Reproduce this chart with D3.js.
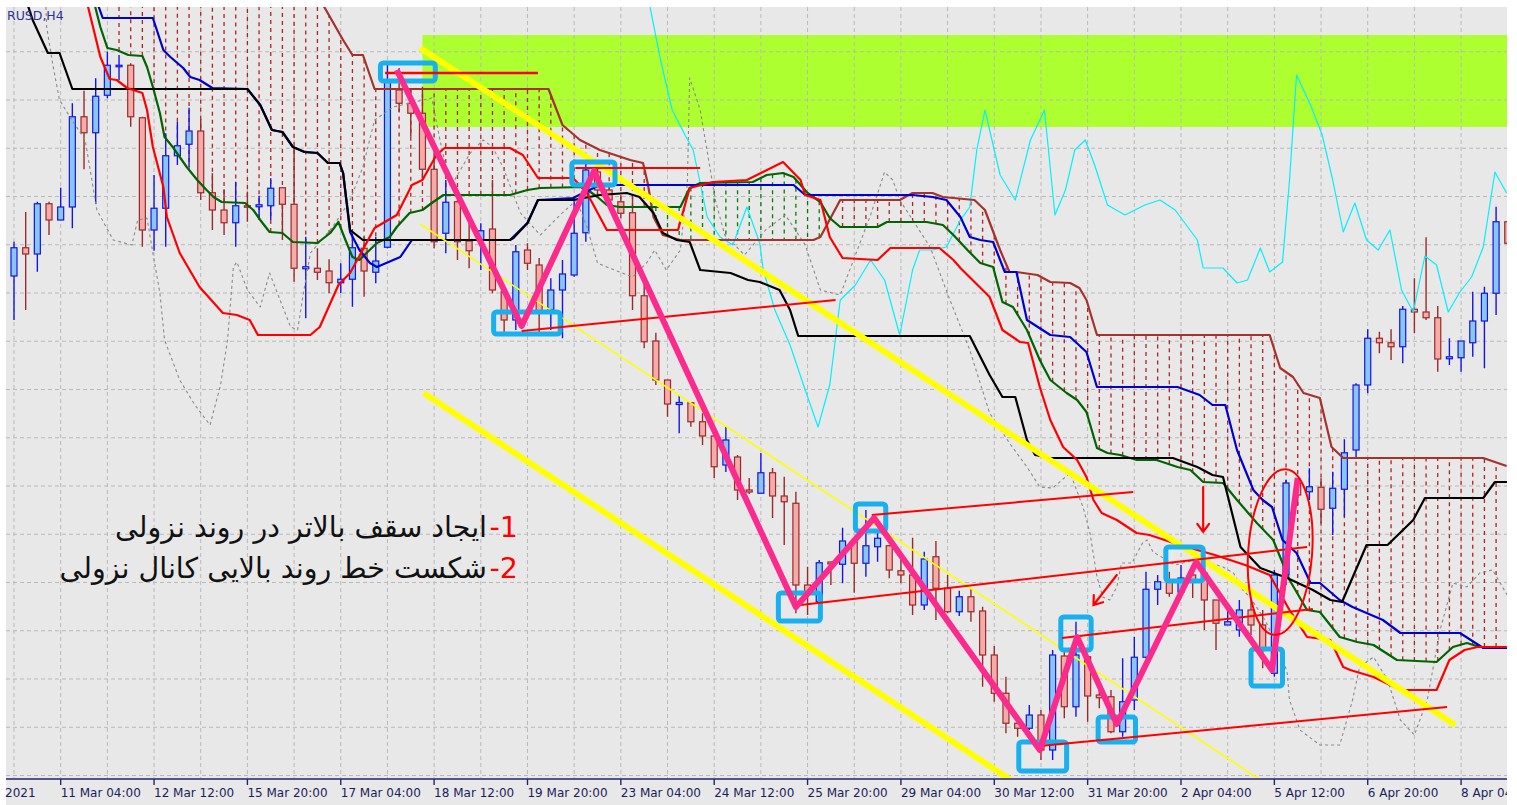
<!DOCTYPE html>
<html>
<head>
<meta charset="utf-8">
<script src="https://cdnjs.cloudflare.com/ajax/libs/d3/7.8.5/d3.min.js"></script>
<style>
  body { margin: 0; background: #fff; }
  svg { display: block; }
</style>
</head>
<body>
<script>
// General constants
const WIDTH = 1517;
const HEIGHT = 805;

// EURUSD H4, one row per bar: [open, high, low, close]
const candles = [
  [1.19056,1.19193,1.18880,1.19169],[1.19169,1.19312,1.18920,1.19144],[1.19144,1.19353,1.19073,1.19345],[1.19345,1.19353,1.19220,1.19280],
  [1.19280,1.19409,1.19280,1.19332],[1.19332,1.19747,1.19247,1.19693],[1.19693,1.19797,1.19483,1.19629],[1.19629,1.19847,1.19344,1.19775],
  [1.19779,1.19953,1.19767,1.19899],[1.19893,1.19940,1.19840,1.19899],[1.19899,1.19907,1.19653,1.19693],[1.19689,1.19693,1.19173,1.19240],
  [1.19240,1.19460,1.19157,1.19327],[1.19327,1.19627,1.19173,1.19537],[1.19537,1.19673,1.19500,1.19577],[1.19583,1.19729,1.19493,1.19636],
  [1.19636,1.19684,1.19360,1.19389],[1.19389,1.19467,1.19240,1.19320],[1.19320,1.19403,1.19220,1.19269],[1.19269,1.19433,1.19173,1.19337],
  [1.19337,1.19393,1.19273,1.19331],[1.19333,1.19377,1.19280,1.19341],[1.19337,1.19447,1.19280,1.19407],[1.19409,1.19409,1.19200,1.19343],
  [1.19343,1.19573,1.19033,1.19087],[1.19085,1.19213,1.18887,1.19093],[1.19087,1.19167,1.19040,1.19071],[1.19076,1.19123,1.18987,1.19029],
  [1.19029,1.19107,1.18987,1.19043],[1.19043,1.19227,1.18933,1.19169],[1.19167,1.19213,1.18973,1.19076],[1.19071,1.19213,1.19027,1.19116],
  [1.19171,1.19907,1.19167,1.19840],[1.19800,1.19888,1.19713,1.19747],[1.19747,1.19800,1.19613,1.19707],[1.19707,1.19813,1.19440,1.19483],
  [1.19483,1.19547,1.19167,1.19193],[1.19227,1.19440,1.19147,1.19351],[1.19353,1.19360,1.19120,1.19193],[1.19196,1.19280,1.19087,1.19157],
  [1.19200,1.19267,1.19080,1.19237],[1.19244,1.19440,1.18987,1.19000],[1.18993,1.19020,1.18832,1.18880],[1.18880,1.19180,1.18840,1.19153],
  [1.19160,1.19187,1.19080,1.19107],[1.19100,1.19128,1.18820,1.18912],[1.18920,1.19047,1.18840,1.19000],[1.19000,1.19120,1.18807,1.19064],
  [1.19060,1.19373,1.19053,1.19227],[1.19229,1.19507,1.19193,1.19480],[1.19472,1.19500,1.19368,1.19400],[1.19400,1.19420,1.19332,1.19360],
  [1.19353,1.19373,1.19287,1.19307],[1.19309,1.19373,1.18920,1.18977],[1.18977,1.19033,1.18767,1.18793],[1.18796,1.18829,1.18620,1.18640],
  [1.18640,1.18640,1.18493,1.18544],[1.18542,1.18580,1.18427,1.18550],[1.18549,1.18549,1.18453,1.18473],[1.18473,1.18507,1.18380,1.18416],
  [1.18416,1.18440,1.18248,1.18293],[1.18300,1.18453,1.18272,1.18400],[1.18332,1.18340,1.18160,1.18200],[1.18200,1.18248,1.18184,1.18192],
  [1.18187,1.18348,1.18187,1.18269],[1.18269,1.18288,1.18088,1.18176],[1.18176,1.18253,1.17980,1.18153],[1.18147,1.18193,1.17707,1.17820],
  [1.17820,1.17893,1.17700,1.17793],[1.17753,1.17920,1.17748,1.17909],[1.17912,1.17913,1.17820,1.17904],[1.17903,1.18049,1.17827,1.17996],
  [1.17993,1.18000,1.17789,1.17907],[1.17907,1.18120,1.17853,1.17977],[1.17973,1.18040,1.17913,1.18007],[1.17977,1.17980,1.17847,1.17880],
  [1.17877,1.17923,1.17827,1.17860],[1.17860,1.18009,1.17700,1.17740],[1.17740,1.17953,1.17720,1.17924],[1.17933,1.17996,1.17680,1.17807],
  [1.17807,1.17860,1.17707,1.17713],[1.17713,1.17797,1.17696,1.17773],[1.17773,1.17803,1.17673,1.17713],[1.17716,1.17733,1.17413,1.17540],
  [1.17540,1.17576,1.17353,1.17387],[1.17387,1.17453,1.17227,1.17267],[1.17267,1.17273,1.17213,1.17247],[1.17247,1.17340,1.17240,1.17300],
  [1.17300,1.17320,1.17120,1.17160],[1.17160,1.17560,1.17120,1.17540],[1.17536,1.17560,1.17287,1.17333],[1.17333,1.17673,1.17293,1.17540],
  [1.17533,1.17533,1.17273,1.17376],[1.17380,1.17420,1.17327,1.17369],[1.17373,1.17400,1.17227,1.17233],[1.17233,1.17527,1.17213,1.17353],
  [1.17360,1.17613,1.17320,1.17531],[1.17531,1.17873,1.17527,1.17803],[1.17803,1.17860,1.17740,1.17833],[1.17833,1.17873,1.17773,1.17787],
  [1.17792,1.17900,1.17768,1.17848],[1.17860,1.17888,1.17768,1.17840],[1.17867,1.17908,1.17640,1.17760],[1.17760,1.17760,1.17560,1.17667],
  [1.17660,1.17720,1.17660,1.17673],[1.17640,1.17760,1.17613,1.17720],[1.17720,1.17767,1.17620,1.17660],[1.17660,1.17720,1.17487,1.17567],
  [1.17467,1.17880,1.17453,1.17860],[1.17860,1.18240,1.17820,1.18228],[1.18228,1.18248,1.18140,1.18180],[1.18193,1.18287,1.18160,1.18213],
  [1.18211,1.18247,1.18067,1.18123],[1.18127,1.18273,1.18020,1.18207],[1.18203,1.18403,1.18093,1.18349],[1.18360,1.18627,1.18327,1.18620],
  [1.18620,1.18843,1.18587,1.18807],[1.18807,1.18833,1.18747,1.18789],[1.18789,1.18843,1.18720,1.18773],[1.18773,1.18936,1.18707,1.18923],
  [1.18923,1.19047,1.18827,1.18912],[1.18912,1.19211,1.18880,1.18889],[1.18889,1.18936,1.18673,1.18724],[1.18725,1.18807,1.18700,1.18733],
  [1.18729,1.18796,1.18673,1.18796],[1.18789,1.18993,1.18733,1.18876],[1.18876,1.19013,1.18687,1.18987],[1.18987,1.19333,1.18900,1.19273],
  [1.19273,1.19320,1.19160,1.19187]
];

// Indicator lines, read as [bar, price] vertices
const redLine = [[6.1,1.2018],[7.4,1.19932],[8.2,1.19844],[8.8,1.1984],[9.7,1.19808],[11,1.19788],[11.4,1.1972],[11.9,1.19572],[12.8,1.19412],[13.1,1.19292],[14.2,1.19148],[15.9,1.19012],[17.9,1.18908],[19.1,1.189],[20.2,1.1888],[20.9,1.1882],[25.4,1.1882],[26.2,1.18852],[27.8,1.1902],[28.8,1.19068],[30.9,1.19248],[32.8,1.193],[34.1,1.1942],[35,1.1944],[36.2,1.1954],[36.9,1.19568],[42.5,1.19568],[43.6,1.1954],[44.9,1.19448],[47.9,1.19448],[49.1,1.19388],[50.8,1.1924],[56.9,1.1924],[57.9,1.19408],[59.9,1.19432],[62.8,1.1944],[65.9,1.19512],[67.4,1.1944],[67.8,1.1938],[69.1,1.1936],[69.9,1.19212],[71,1.19128],[74,1.1912],[75.1,1.19168],[79.3,1.19168],[80.5,1.1912],[81.1,1.19088],[83.6,1.18972],[84.7,1.1884],[86.2,1.18792],[86.9,1.18788],[87.9,1.18612],[88.8,1.1848],[89.9,1.18372],[91.1,1.1832],[91.9,1.18252],[92.5,1.1816],[93.2,1.18108],[94.5,1.1808],[96.2,1.18028],[97.3,1.1802],[99.9,1.1798],[102.9,1.1794],[105.5,1.179],[107.6,1.1786],[109.3,1.1772],[110.8,1.17612],[112.8,1.176],[113.9,1.17492],[114.5,1.1748],[116.5,1.17452],[118.8,1.174],[121.9,1.174],[123,1.1752],[124.3,1.1756],[125.4,1.17572],[128.2,1.17572]];
const blackLine = [[0.9,1.2018],[1.6,1.2008],[2.9,1.19948],[3.9,1.19948],[5,1.19804],[20,1.19804],[21.1,1.1974],[22.1,1.1964],[23,1.19632],[23.9,1.19572],[24.9,1.19552],[26,1.19548],[26.9,1.19508],[27.9,1.19508],[28.2,1.19468],[28.8,1.1924],[29.9,1.192],[42.5,1.192],[42.8,1.19208],[44,1.19268],[44.9,1.1936],[47.9,1.1936],[50.2,1.1938],[52.5,1.19388],[53.6,1.19372],[54.8,1.19308],[55.6,1.19228],[56.8,1.192],[57.9,1.19192],[58.8,1.1908],[61.4,1.19068],[62.9,1.1904],[63.9,1.19032],[65.6,1.19],[66.5,1.1892],[67.2,1.18816],[81.9,1.18816],[83.6,1.1866],[84.7,1.18572],[85.8,1.18572],[86.8,1.184],[87.5,1.1834],[88.8,1.18328],[99.3,1.18328],[101.4,1.18292],[102.7,1.1826],[103.6,1.18252],[105.1,1.17972],[106.8,1.17888],[109.1,1.17848],[111.3,1.178],[112.8,1.1776],[113.8,1.17752],[115.9,1.1798],[117.7,1.1798],[119.9,1.1808],[120.9,1.18168],[125.9,1.18168],[126.9,1.18232],[128.2,1.18232]];
const blueLine = [[6.9,1.2018],[7.6,1.20088],[11.9,1.20088],[12.8,1.1996],[13.4,1.19932],[14.5,1.19888],[15.1,1.19852],[15.9,1.1984],[17,1.19808],[20,1.19804],[21.1,1.1974],[22.1,1.1964],[23,1.19632],[23.9,1.19572],[24.9,1.19552],[26,1.19548],[26.9,1.19508],[27.9,1.19508],[28.2,1.19468],[28.8,1.19232],[29.6,1.1916],[30.5,1.19108],[31.1,1.19092],[32.5,1.1912],[33.1,1.19132],[34.1,1.192],[42.5,1.192],[44,1.19268],[44.9,1.1936],[47.9,1.19368],[50.2,1.1942],[66.8,1.1942],[67.8,1.1938],[77,1.1938],[78.7,1.19372],[79.9,1.1936],[81.1,1.19292],[81.9,1.19212],[82.8,1.192],[83.9,1.19192],[84.9,1.19072],[85.9,1.19072],[86.8,1.1888],[88.8,1.1882],[90.5,1.18812],[91.9,1.18752],[92.8,1.18612],[99.7,1.18612],[101.6,1.1858],[102.7,1.1854],[103.8,1.1854],[104.8,1.1836],[106.2,1.182],[107,1.1816],[107.8,1.18132],[108.7,1.18],[109.9,1.17948],[111.1,1.17828],[111.9,1.17828],[113.6,1.1776],[114.7,1.17732],[117.3,1.1768],[118.8,1.17628],[123.9,1.17628],[125.9,1.17568],[128.2,1.17568]];
// cloud edges: span A (dark green) and span B (brown)
const spanA = [[6.7,1.2018],[7.4,1.20052],[8,1.19968],[8.8,1.1996],[9.8,1.1994],[11,1.19936],[11.4,1.19892],[11.9,1.19812],[12.5,1.19708],[12.9,1.19612],[13.6,1.19572],[14.8,1.19492],[15.7,1.1944],[16.5,1.194],[17.1,1.19372],[17.8,1.19352],[19.8,1.19348],[20.5,1.1932],[21.1,1.1928],[21.9,1.19232],[23,1.19228],[23.9,1.19192],[26,1.19188],[27.1,1.19228],[27.8,1.19272],[28.4,1.192],[29,1.19132],[29.6,1.1912],[30.3,1.19152],[31.1,1.19188],[32.2,1.19212],[32.8,1.19252],[33.9,1.19308],[35,1.1932],[35.8,1.19348],[36.8,1.1938],[42.5,1.1938],[44,1.194],[45.1,1.19408],[48.8,1.19412],[50,1.19372],[50.8,1.1934],[51.9,1.19332],[57.1,1.19332],[57.9,1.19408],[58.8,1.19428],[63.3,1.19432],[64.5,1.1946],[65.9,1.19468],[66.8,1.19452],[68,1.19388],[69.1,1.19352],[69.9,1.19288],[70.8,1.19252],[74,1.19252],[74.8,1.19272],[78.2,1.19272],[79.6,1.1926],[80.5,1.1922],[81.7,1.1916],[82.8,1.19108],[83.9,1.19092],[84.7,1.18952],[85.6,1.18932],[86.8,1.1884],[87.9,1.1872],[88.8,1.1864],[90.2,1.18588],[91.1,1.1856],[91.9,1.18512],[92.8,1.18368],[93.7,1.18348],[94.8,1.1834],[96.2,1.1832],[97.9,1.1832],[99.7,1.18292],[100.8,1.1828],[101.9,1.18232],[103.6,1.18228],[104.8,1.1816],[106.5,1.18068],[107.9,1.18],[109.3,1.1784],[110.8,1.1772],[111.9,1.17712],[113.6,1.17612],[115.1,1.17592],[116.5,1.1758],[118.5,1.1752],[121.9,1.17512],[123.3,1.17572],[124.5,1.17588],[125.6,1.17572],[128.2,1.17572]];
const spanB = [[8.5,1.2030],[25.5,1.2030],[26,1.2018],[28.2,1.2],[29,1.1994],[29.9,1.1994],[30.9,1.19804],[45.8,1.19804],[47,1.1966],[48.5,1.196],[50.2,1.1956],[52.8,1.1952],[53.9,1.19508],[54.3,1.19428],[54.8,1.19292],[55.6,1.1922],[57.1,1.192],[68.5,1.192],[69.1,1.19212],[70.8,1.1936],[75.9,1.1936],[77,1.19388],[78.7,1.19388],[79.6,1.19372],[82.3,1.1936],[83.2,1.1932],[84.5,1.1916],[85.3,1.19072],[85.9,1.19072],[87.7,1.1906],[88.8,1.19032],[90.5,1.19028],[91.3,1.19008],[91.9,1.1896],[92.8,1.1882],[107.6,1.1882],[108.5,1.18688],[109.6,1.18652],[110.5,1.18588],[111.9,1.18568],[112.9,1.18372],[113.9,1.18328],[125.9,1.18328],[127.9,1.18296]];
const cyanLine = [[54.3,1.2018],[55.4,1.1992],[56.4,1.1972],[57.5,1.1962],[58.2,1.1956],[58.8,1.19428],[59.4,1.19292],[60.5,1.19212],[61.6,1.1918],[62.8,1.19332],[63.9,1.19188],[64.2,1.1908],[65.2,1.1892],[66.5,1.1878],[67.8,1.186],[68.9,1.18452],[69.9,1.1862],[70.8,1.1896],[72.1,1.1902],[73.4,1.1912],[74.6,1.1904],[75.9,1.1882],[77,1.1908],[77.6,1.1916],[78.7,1.1916],[79.9,1.19172],[81.1,1.1928],[81.9,1.19332],[82.5,1.1956],[83.2,1.1972],[84.5,1.1946],[85.8,1.1936],[87.1,1.196],[88.3,1.1972],[89.2,1.193],[90.1,1.194],[90.9,1.1956],[91.8,1.196],[92.6,1.195],[93.7,1.1934],[95.2,1.193],[96.9,1.1934],[98.2,1.1936],[99.5,1.1932],[101.4,1.192],[101.9,1.19088],[103.6,1.19088],[104.8,1.19028],[105.7,1.1904],[106.8,1.19168],[107.6,1.19072],[108.7,1.19112],[109.3,1.1944],[109.9,1.1986],[111.1,1.1974],[112.1,1.1962],[113,1.1944],[113.9,1.19232],[114.9,1.19348],[115.9,1.192],[116.9,1.1916],[117.9,1.1924],[118.9,1.19],[119.9,1.18912],[120.9,1.19136],[121.9,1.191],[122.9,1.18912],[123.9,1.18992],[124.9,1.19052],[125.9,1.19172],[126.9,1.19472],[127.9,1.19388]];
const grayLine = [[2.7,1.2018],[2.8,1.20052],[3.3,1.19908],[3.9,1.1976],[4.8,1.19692],[6.1,1.196],[7.1,1.1932],[8.5,1.192],[10.1,1.1918],[10.6,1.1928],[11.4,1.19288],[11.9,1.19148],[12.5,1.18988],[12.9,1.188],[14.2,1.1864],[15.5,1.1854],[16.8,1.1846],[17.7,1.1862],[18.3,1.188],[18.8,1.19092],[19.1,1.19112],[20,1.19],[21.1,1.18932],[21.9,1.19068],[22.8,1.1896],[23.7,1.18852],[24.3,1.1884],[24.8,1.18988],[25.4,1.19148],[27.3,1.19252],[28.1,1.19308],[28.8,1.1936],[29.9,1.19492],[30.9,1.1968],[32.5,1.19732],[35.8,1.19768],[36.5,1.196],[37.4,1.19412],[39.1,1.19548],[40.2,1.196],[41,1.19572],[41.9,1.19492],[43.4,1.19308],[45.1,1.1922],[46.8,1.193],[48.2,1.1936],[49.1,1.19252],[50,1.19108],[50.8,1.19092],[53,1.19052],[54.2,1.19108],[54.9,1.1916],[55.9,1.1908],[57.1,1.1916],[57.7,1.19428],[57.9,1.19848],[58.8,1.1972],[60.1,1.1936],[60.9,1.1922],[62.6,1.1914],[64.4,1.1924],[66.1,1.193],[67.8,1.1918],[69.1,1.19],[70.8,1.1898],[73.4,1.193],[74.6,1.19472],[75.3,1.1944],[75.9,1.1936],[78.5,1.19172],[80.2,1.1896],[81.9,1.1876],[83.6,1.18508],[85.3,1.18388],[86.8,1.18292],[87.9,1.18212],[89,1.18208],[90.5,1.18268],[91.6,1.18132],[92.2,1.18028],[92.8,1.17852],[93.3,1.17772],[93.9,1.1776],[94.5,1.17812],[94.9,1.17908],[95.8,1.17908],[96.7,1.17988],[97.1,1.18],[97.6,1.17952],[99.5,1.179],[101.2,1.1792],[102.5,1.17908],[103.6,1.17892],[104.5,1.17868],[105.3,1.178],[105.9,1.17772],[107.2,1.1768],[108.7,1.17532],[109.1,1.17468],[109.3,1.1736],[110.2,1.1724],[111.9,1.1718],[113.6,1.1718],[114.7,1.1736],[115.3,1.17492],[116.5,1.17532],[117.7,1.1744],[118.8,1.1728],[120,1.1722],[121.1,1.1736],[122.2,1.1764],[123.3,1.17828],[124.5,1.17812],[125.6,1.17868],[126.7,1.1788],[128.2,1.1776]];

// Time axis labels, one every 8 bars starting at bar 4 (the first, cut one shows only its year)
const yearLabel = "2021";
const timeLabels = ["11 Mar 04:00","12 Mar 12:00","15 Mar 20:00","17 Mar 04:00","18 Mar 12:00","19 Mar 20:00","23 Mar 04:00","24 Mar 12:00","25 Mar 20:00","29 Mar 04:00","30 Mar 12:00","31 Mar 20:00","2 Apr 04:00","5 Apr 12:00","6 Apr 20:00","8 Apr 04:00"];
const symbolCaption = "RUSD,H4";

// Drawn objects, anchored at [bar, price]
const zone = [35, 131, 1.20020, 1.19652];
const channelThick = [[[34.8,1.19968],[123.5,1.17260]], [[35.1,1.18588],[85.8,1.17028]]];
const channelThin = [[[34.8,1.19264],[107.2,1.17028]]];
const levelLines = [
  [[31.8,1.19868],[44.9,1.19868]], [[48.1,1.19488],[58.8,1.19488]], [[43.5,1.18836],[70.4,1.18960]],
  [[73.5,1.18100],[95.9,1.18192]], [[67.4,1.17740],[110.8,1.17972]], [[89.8,1.17608],[111.3,1.17724]],
  [[87.9,1.17176],[122.8,1.17332]]
];
const markBoxes = [
  [31.4,36.1,1.19908,1.19836],[47.8,51.5,1.19512,1.19420],[41.1,46.8,1.18912,1.18824],[65.5,69.1,1.17788,1.17676],
  [72.1,74.7,1.18144,1.18036],[86.1,90.2,1.17192,1.17076],[89.7,92.3,1.17692,1.17560],[92.9,96.1,1.17292,1.17192],
  [98.7,101.9,1.17972,1.17836],[106.0,108.7,1.17564,1.17416]
];
const zigzag = [[32.8,1.19880],[43.5,1.18856],[49.7,1.19476],[67,1.17732],[73.7,1.18088],[87.9,1.17160],[91.1,1.17612],[94.5,1.17264],[101.3,1.17912],[107.8,1.17480],[110,1.18248]];
const arrows = [[[101.9,1.18212],[101.9,1.18032]], [[94.5,1.17860],[92.5,1.17740]]];
const ellipseMark = { bar: 108.5, price: 1.17952, barRadius: 2.74, priceRadius: 0.00332 };
const notes = [["-1", "ایجاد سقف بالاتر در روند نزولی"], ["-2", "شکست خط روند بالایی کانال نزولی"]];

// price grid, MT4 style
const gridTop = 1.19953, gridStep = 0.00193;

/**
 * Scales: bar index -> x, price -> y
 */
const barStep = 11.67;
const x = d3.scaleLinear().domain([0, 128]).range([14, 14 + 128 * barStep]);
const y = d3.scaleLinear().domain([1.2016, 1.1716]).range([0, 750]);

const plotLeft = 6, plotTop = 7, plotRight = 1507, plotBottom = 778;

const svg = d3.select("body").append("svg")
  .attr("width", WIDTH)
  .attr("height", HEIGHT);

svg.append("rect")
  .attr("x", plotLeft).attr("y", plotTop)
  .attr("width", plotRight - plotLeft).attr("height", HEIGHT - plotTop)
  .attr("fill", "#e8e8e8");

svg.append("clipPath").attr("id", "plotclip")
  .append("rect")
  .attr("x", plotLeft).attr("y", plotTop)
  .attr("width", plotRight - plotLeft).attr("height", plotBottom - plotTop);

svg.append("clipPath").attr("id", "axisclip")
  .append("rect")
  .attr("x", 0).attr("y", plotBottom)
  .attr("width", plotRight).attr("height", HEIGHT - plotBottom);

const plot = svg.append("g").attr("clip-path", "url(#plotclip)");

// background rectangle object
plot.append("rect")
  .attr("x", x(zone[0])).attr("y", y(zone[2]))
  .attr("width", x(zone[1]) - x(zone[0]))
  .attr("height", y(zone[3]) - y(zone[2]))
  .attr("fill", "#adff2f");

// grid
const gridBars = d3.range(0, 129, 4);
plot.selectAll("line.vgrid").data(gridBars).join("line")
  .attr("class", "vgrid")
  .attr("x1", d => x(d)).attr("x2", d => x(d))
  .attr("y1", plotTop).attr("y2", plotBottom)
  .attr("stroke", "#b9b9b9").attr("stroke-width", 1)
  .attr("stroke-dasharray", "4,3");

const gridLevels = d3.range(0, 16).map(k => gridTop - k * gridStep);
plot.selectAll("line.hgrid").data(gridLevels).join("line")
  .attr("class", "hgrid")
  .attr("x1", plotLeft).attr("x2", plotRight)
  .attr("y1", d => y(d)).attr("y2", d => y(d))
  .attr("stroke", "#b9b9b9").attr("stroke-width", 1)
  .attr("stroke-dasharray", "4,3");

// value of a vertex series at a bar (straight segments, as drawn)
function valueAt(series, b) {
  for (let k = 0; k < series.length - 1; k++) {
    const [x0, v0] = series[k], [x1, v1] = series[k + 1];
    if (b >= x0 && b <= x1) return v0 + (v1 - v0) * (b - x0) / (x1 - x0);
  }
  return null;
}

// cloud hatching, one dotted line per bar between span A and span B
const hatch = [];
for (let b = 0; b <= 128; b++) {
  const a = valueAt(spanA, b), s = valueAt(spanB, b);
  if (a === null || s === null) continue;
  hatch.push({ b, a, s });
}
plot.selectAll("line.hatch").data(hatch).join("line")
  .attr("class", "hatch")
  .attr("x1", d => x(d.b)).attr("x2", d => x(d.b))
  .attr("y1", d => y(d.a)).attr("y2", d => y(d.s))
  .attr("stroke", d => d.s > d.a ? "#b22222" : "#008000")
  .attr("stroke-width", 1.3)
  .attr("stroke-dasharray", "4,4");

// candles
const bodyW = 6;
const bars = plot.selectAll("g.candle").data(candles).join("g").attr("class", "candle");
bars.append("line")
  .attr("x1", (d, i) => x(i)).attr("x2", (d, i) => x(i))
  .attr("y1", d => y(d[1])).attr("y2", d => y(d[2]))
  .attr("stroke", d => d[3] >= d[0] ? "#1414e6" : "#9a2a2a")
  .attr("stroke-width", 1.4);
bars.append("rect")
  .attr("x", (d, i) => x(i) - bodyW / 2)
  .attr("y", d => y(Math.max(d[0], d[3])))
  .attr("width", bodyW)
  .attr("height", d => Math.max(y(Math.min(d[0], d[3])) - y(Math.max(d[0], d[3])), 1))
  .attr("fill", d => d[3] >= d[0] ? "#87c7f2" : "#f6abab")
  .attr("stroke", d => d[3] >= d[0] ? "#1414e6" : "#9a2a2a")
  .attr("stroke-width", 1.2);

// indicator lines
const line = d3.line().x(d => x(d[0])).y(d => y(d[1]));
function drawLine(data, color, width, dash) {
  plot.append("path").datum(data)
    .attr("d", line)
    .attr("fill", "none")
    .attr("stroke", color)
    .attr("stroke-width", width)
    .attr("stroke-linejoin", "round")
    .attr("stroke-dasharray", dash || null);
}
drawLine(grayLine, "#8a8a8a", 1.1, "3,3");
drawLine(cyanLine, "#00f0ff", 1.2);
drawLine(spanB, "#a5322c", 2.2);
drawLine(spanA, "#006400", 2.2);
drawLine(blueLine, "#0000d0", 2.2);
drawLine(blackLine, "#000000", 2.2);
drawLine(redLine, "#ff0000", 2.2);

// objects: channel
channelThick.forEach(seg => drawLine(seg, "#ffff00", 6));
channelThin.forEach(seg => drawLine(seg, "#ffff00", 1.6));

// marker boxes
plot.selectAll("rect.mark").data(markBoxes).join("rect")
  .attr("class", "mark")
  .attr("x", d => x(d[0])).attr("y", d => y(d[2]))
  .attr("width", d => x(d[1]) - x(d[0]))
  .attr("height", d => y(d[3]) - y(d[2]))
  .attr("rx", 3)
  .attr("fill", "none")
  .attr("stroke", "#18b0ee")
  .attr("stroke-width", 5);

// level lines
levelLines.forEach((seg, k) => drawLine(seg, "#ff0000", k === 0 ? 2.6 : 2));

// zigzag
drawLine(zigzag, "#fb2a8c", 6);

// ellipse
const ecx = x(ellipseMark.bar), ecy = y(ellipseMark.price);
plot.append("ellipse")
  .attr("cx", ecx).attr("cy", ecy)
  .attr("rx", x(ellipseMark.bar + ellipseMark.barRadius) - ecx)
  .attr("ry", y(ellipseMark.price - ellipseMark.priceRadius) - ecy)
  .attr("transform", `rotate(4,${ecx},${ecy})`)
  .attr("fill", "none")
  .attr("stroke", "#ff0000")
  .attr("stroke-width", 2);

// arrows
arrows.forEach(([p0, p1]) => {
  const x0 = x(p0[0]), y0 = y(p0[1]), x1 = x(p1[0]), y1 = y(p1[1]);
  const ang = Math.atan2(y1 - y0, x1 - x0);
  const hl = 10, spread = Math.PI / 5;
  const path = `M${x0},${y0}L${x1},${y1}` +
    `M${x1 - hl * Math.cos(ang - spread)},${y1 - hl * Math.sin(ang - spread)}L${x1},${y1}` +
    `L${x1 - hl * Math.cos(ang + spread)},${y1 - hl * Math.sin(ang + spread)}`;
  plot.append("path").attr("d", path)
    .attr("fill", "none").attr("stroke", "#ff0000").attr("stroke-width", 2.2)
    .attr("stroke-linecap", "round");
});

// notes
notes.forEach(([num, txt], k) => {
  const base = 537 + k * 41;
  plot.append("text")
    .attr("x", 518).attr("y", base)
    .attr("text-anchor", "end")
    .attr("font-family", "DejaVu Sans")
    .attr("font-size", 28.5)
    .attr("fill", "#ff0000")
    .text(num);
  plot.append("text")
    .attr("x", 487).attr("y", base)
    .attr("text-anchor", "end")
    .attr("font-family", "DejaVu Sans")
    .attr("font-size", 28.5)
    .attr("fill", "#111")
    .text(txt);
});

// symbol caption
svg.append("text")
  .attr("x", 7).attr("y", 20)
  .attr("font-family", "DejaVu Sans")
  .attr("font-size", 12.5)
  .attr("fill", "#30309a")
  .text(symbolCaption);

// time axis
const axisY = 779;
svg.append("line")
  .attr("x1", plotLeft).attr("x2", plotRight)
  .attr("y1", axisY).attr("y2", axisY)
  .attr("stroke", "#24246e").attr("stroke-width", 1.6);

const labelBars = d3.range(4, 125, 8);
const axisG = svg.append("g").attr("clip-path", "url(#axisclip)");
axisG.selectAll("line.tick").data(labelBars).join("line")
  .attr("class", "tick")
  .attr("x1", d => x(d)).attr("x2", d => x(d))
  .attr("y1", axisY).attr("y2", axisY + 6)
  .attr("stroke", "#24246e").attr("stroke-width", 1.4);
axisG.selectAll("text.tlabel").data(labelBars).join("text")
  .attr("class", "tlabel")
  .attr("x", d => x(d))
  .attr("y", 797)
  .attr("font-family", "DejaVu Sans")
  .attr("font-size", 12)
  .attr("fill", "#1c1c5c")
  .text((d, k) => timeLabels[k]);
axisG.append("text")
  .attr("x", 5).attr("y", 797)
  .attr("font-family", "DejaVu Sans")
  .attr("font-size", 12)
  .attr("fill", "#1c1c5c")
  .text(yearLabel);
</script>
</body>
</html>
